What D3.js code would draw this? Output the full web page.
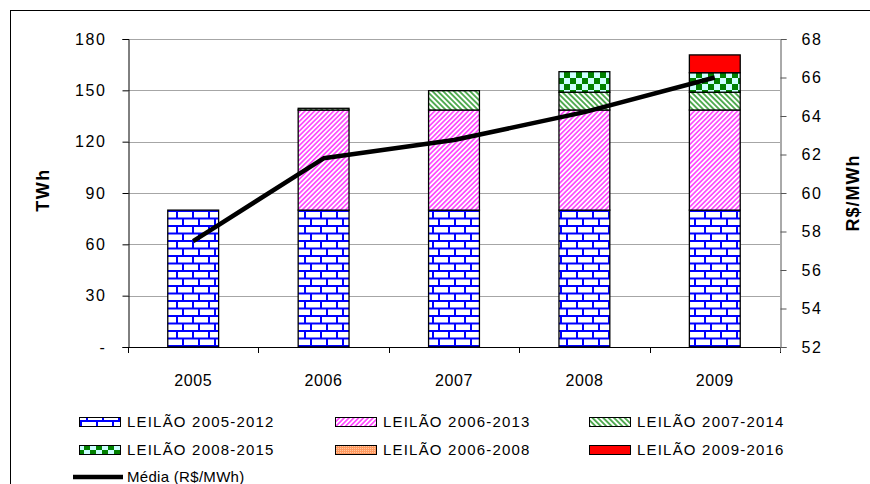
<!DOCTYPE html>
<html>
<head>
<meta charset="utf-8">
<script src="https://cdn.jsdelivr.net/npm/d3@7"></script>
<style>
  body { margin: 0; background: #fff; }
  svg text { font-family: "Liberation Sans", Arial, sans-serif; fill: #000; }
</style>
</head>
<body>
<div id="chart"></div>
<script>
const years = ["2005", "2006", "2007", "2008", "2009"];
const leilao0512 = [80, 80, 80, 80, 80];
const leilao0613 = [0, 58.5, 58.5, 58.5, 58.5];
const leilao0714 = [0, 1, 11.3, 10.4, 10.4];
const leilao0815 = [0, 0, 0, 12, 11.4];
const leilao0608 = [0, 0, 0, 0, 0];
const leilao0916 = [0, 0, 0, 0, 10.4];
const media = [57.5, 61.8, 62.75, 64.2, 66.0];
const leftTicks = [0, 30, 60, 90, 120, 150, 180];
const rightTicks = [52, 54, 56, 58, 60, 62, 64, 66, 68];

const seriesNames = ["LEILÃO 2005-2012", "LEILÃO 2006-2013", "LEILÃO 2007-2014",
  "LEILÃO 2008-2015", "LEILÃO 2006-2008", "LEILÃO 2009-2016"];
const seriesValues = [leilao0512, leilao0613, leilao0714, leilao0815, leilao0608, leilao0916];
const seriesFill = ["url(#brick)", "url(#pink)", "url(#greenHatch)", "url(#checker)", "url(#orange)", "#ff0000"];

const W = 870, H = 484;
const plot = { left: 128, right: 780, top: 39, bottom: 347 };

const svg = d3.select("#chart").append("svg")
  .attr("width", W).attr("height", H);

// patterns
const defs = svg.append("defs");
const brick = defs.append("pattern").attr("id", "brick")
  .attr("patternUnits", "userSpaceOnUse").attr("width", 16).attr("height", 15);
brick.append("rect").attr("width", 16).attr("height", 15).attr("fill", "#0000ff");
brick.append("rect").attr("x", 2).attr("y", 2).attr("width", 14).attr("height", 5.5).attr("fill", "#fff");
brick.append("rect").attr("x", 0).attr("y", 9.5).attr("width", 6).attr("height", 5.5).attr("fill", "#fff");
brick.append("rect").attr("x", 8).attr("y", 9.5).attr("width", 8).attr("height", 5.5).attr("fill", "#fff");

function hatch(id, angle, size, color, sw) {
  const p = defs.append("pattern").attr("id", id)
    .attr("patternUnits", "userSpaceOnUse").attr("width", size).attr("height", size)
    .attr("patternTransform", `rotate(${angle})`);
  p.append("rect").attr("width", size).attr("height", size).attr("fill", "#fff");
  p.append("line").attr("x1", size / 2).attr("x2", size / 2).attr("y1", 0).attr("y2", size)
    .attr("stroke", color).attr("stroke-width", sw);
}
hatch("pink", 45, 3.4, "#ff33ff", 1.5);
hatch("greenHatch", -45, 3.8, "#2f9a2f", 1.6);

const checker = defs.append("pattern").attr("id", "checker")
  .attr("patternUnits", "userSpaceOnUse").attr("width", 12).attr("height", 12);
checker.append("rect").attr("width", 12).attr("height", 12).attr("fill", "#ccffff");
checker.append("rect").attr("width", 6).attr("height", 6).attr("fill", "#008000");
checker.append("rect").attr("x", 6).attr("y", 6).attr("width", 6).attr("height", 6).attr("fill", "#008000");

const orange = defs.append("pattern").attr("id", "orange")
  .attr("patternUnits", "userSpaceOnUse").attr("width", 2).attr("height", 2);
orange.append("rect").attr("width", 2).attr("height", 2).attr("fill", "#ff9960");
orange.append("rect").attr("width", 1).attr("height", 1).attr("fill", "#ffc8a0");

// outer frame (cut by the picture edges)
svg.append("rect").attr("x", 10.5).attr("y", 10.5).attr("width", 900).attr("height", 500)
  .attr("fill", "none").attr("stroke", "#000").attr("stroke-width", 1);

// scales
const x = d3.scaleBand().domain(years).range([plot.left, plot.right])
  .paddingInner(0.61).paddingOuter(0.305);
const y = d3.scaleLinear().domain([0, 180]).range([plot.bottom, plot.top]);
const y2 = d3.scaleLinear().domain([52, 68]).range([plot.bottom, plot.top]);

// gridlines
svg.append("g").selectAll("line").data(leftTicks.filter(d => d > 0)).join("line")
  .attr("x1", plot.left).attr("x2", plot.right)
  .attr("y1", d => Math.round(y(d)) + 0.5).attr("y2", d => Math.round(y(d)) + 0.5)
  .attr("stroke", "#a6a6a6").attr("stroke-width", 1);

// stacked bars
const table = years.map((yr, i) => {
  const row = { year: yr };
  seriesNames.forEach((s, k) => { row[s] = seriesValues[k][i]; });
  return row;
});
const stack = d3.stack().keys(seriesNames)(table);

stack.forEach((layer, k) => {
  svg.append("g").selectAll("rect").data(layer.filter(d => d[1] - d[0] > 0)).join("rect")
    .attr("x", d => x(d.data.year))
    .attr("width", x.bandwidth())
    .attr("y", d => y(d[1]))
    .attr("height", d => y(d[0]) - y(d[1]))
    .attr("fill", seriesFill[k])
    .attr("stroke", "#000").attr("stroke-width", 1.3);
});

// x axis with boundary ticks
const step = x.step();
const bounds = years.map(d => x(d) + x.bandwidth() / 2 - step / 2)
  .concat([x(years[years.length - 1]) + x.bandwidth() / 2 + step / 2]);
const gx = svg.append("g");
gx.append("line").attr("x1", plot.left).attr("x2", plot.right)
  .attr("y1", plot.bottom + 0.5).attr("y2", plot.bottom + 0.5).attr("stroke", "#000");
gx.selectAll("line.tk").data(bounds).join("line").attr("class", "tk")
  .attr("x1", d => Math.round(d) + 0.5).attr("x2", d => Math.round(d) + 0.5)
  .attr("y1", plot.bottom).attr("y2", plot.bottom + 6).attr("stroke", "#000");
gx.selectAll("text").data(years).join("text")
  .attr("x", d => x(d) + x.bandwidth() / 2).attr("y", 386)
  .attr("text-anchor", "middle").style("font-size", "16px").style("letter-spacing", "0.6px")
  .text(d => d);

// left axis
const gl = svg.append("g").attr("transform", `translate(${plot.left + 0.5},0)`)
  .call(d3.axisLeft(y).tickValues(leftTicks).tickSize(6).tickPadding(16)
    .tickFormat(d => d === 0 ? "-" : d));
gl.select(".domain").attr("stroke", "#000");
gl.selectAll("text").style("font-size", "16px").style("letter-spacing", "1.6px")
  .style("font-family", '"Liberation Sans", Arial, sans-serif');

// right axis
const gr = svg.append("g").attr("transform", `translate(${plot.right + 0.5},0)`)
  .call(d3.axisRight(y2).tickValues(rightTicks).tickSize(6).tickPadding(15));
gr.select(".domain").attr("stroke", "#555");
gr.selectAll(".tick line").attr("stroke", "#555");
gr.selectAll("text").style("font-size", "16px").style("letter-spacing", "1.6px")
  .style("font-family", '"Liberation Sans", Arial, sans-serif');

// axis extensions below the base line
svg.append("line").attr("x1", plot.left + 0.5).attr("x2", plot.left + 0.5)
  .attr("y1", plot.bottom).attr("y2", plot.bottom + 5).attr("stroke", "#000");
svg.append("line").attr("x1", plot.right + 0.5).attr("x2", plot.right + 0.5)
  .attr("y1", plot.bottom).attr("y2", plot.bottom + 5).attr("stroke", "#555");

// axis titles
svg.append("text").attr("transform", "translate(49,190) rotate(-90)")
  .attr("text-anchor", "middle").style("font-size", "18px").style("font-weight", "bold")
  .style("letter-spacing", "1.5px").text("TWh");
svg.append("text").attr("transform", "translate(859,193) rotate(-90)")
  .attr("text-anchor", "middle").style("font-size", "18px").style("font-weight", "bold")
  .style("letter-spacing", "1px").text("R$/MWh");

// media line
const line = d3.line().x((d, i) => x(years[i]) + x.bandwidth() / 2).y(d => y2(d));
svg.append("path").datum(media).attr("d", line)
  .attr("fill", "none").attr("stroke", "#000").attr("stroke-width", 4.5)
  .attr("stroke-linejoin", "round");

// legend
const legCols = [79, 335, 589];
const legRows = [422, 450];
const legend = svg.append("g");
seriesNames.forEach((s, k) => {
  const cx = legCols[k % 3], cy = legRows[Math.floor(k / 3)];
  legend.append("rect").attr("x", cx + 0.5).attr("y", cy - 4.5).attr("width", 41).attr("height", 9)
    .attr("fill", seriesFill[k]).attr("stroke", "#000").attr("stroke-width", 1);
  legend.append("text").attr("x", cx + 48).attr("y", cy).attr("dy", "0.35em")
    .style("font-size", "15px").style("letter-spacing", "1.2px").text(s);
});
legend.append("line").attr("x1", 73).attr("x2", 123).attr("y1", 477).attr("y2", 477)
  .attr("stroke", "#000").attr("stroke-width", 4.5);
legend.append("text").attr("x", 127).attr("y", 477).attr("dy", "0.35em")
  .style("font-size", "15px").style("letter-spacing", "0.3px").text("Média (R$/MWh)");
</script>
</body>
</html>
